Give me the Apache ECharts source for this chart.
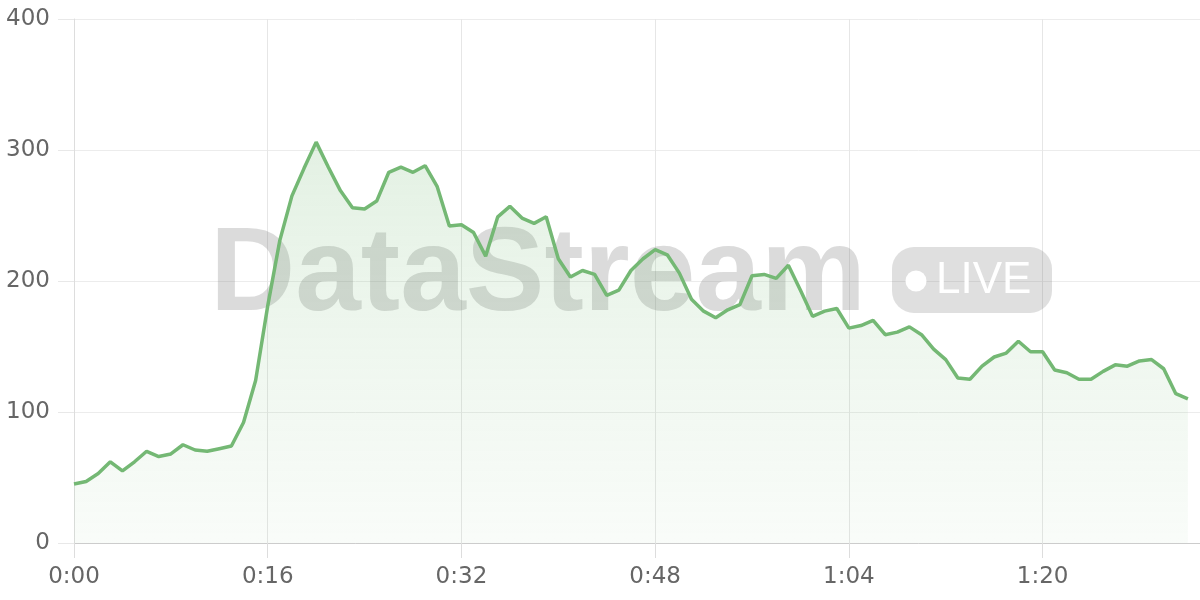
<!DOCTYPE html>
<html>
<head>
<meta charset="utf-8">
<script src="https://cdn.jsdelivr.net/npm/echarts@6/dist/echarts.min.js"></script>
<style>
html,body{margin:0;padding:0;background:#fff;}
#chart{width:1200px;height:600px;}
</style>
</head>
<body>
<div id="chart"></div>
<script>
// x domain: seconds 0..93
const seconds = Array.from({length: 94}, (_, i) => i);
// series values (one per second)
const viewers = [45,47,53,62,55,62,70,66,68,75,71,70,72,74,92,124,181,231,265,286,
  306,287,269,256,255,261,283,287,283,288,272,242,243,237,219,249,257,248,244,249,
  217,203,208,205,189,193,208,217,224,220,206,186,177,172,178,182,204,205,202,212,
  193,173,177,179,164,166,170,159,161,165,159,148,140,126,125,135,142,145,154,146,
  146,132,130,125,125,131,136,135,139,140,133,114,110];
const yTicks = [0, 100, 200, 300, 400];
const watermarkText = 'DataStream';
const badgeText = 'LIVE';

function fmt(s) {
  s = Number(s);
  const m = Math.floor(s / 60), r = s % 60;
  return m + ':' + (r < 10 ? '0' + r : r);
}

const chart = echarts.init(document.getElementById('chart'));
const labelFont = 'DejaVu Sans';
chart.setOption({
  animation: false,
  grid: {left: 74, right: 0, top: 19, bottom: 57, containLabel: false},
  xAxis: {
    type: 'category',
    boundaryGap: false,
    data: seconds,
    axisLine: {lineStyle: {color: '#cccccc', width: 1}},
    axisTick: {show: true, interval: 15, length: 15, lineStyle: {color: '#dddddd'}},
    axisLabel: {interval: 15, formatter: fmt, color: '#666', fontSize: 23, fontFamily: labelFont, margin: 23},
    splitLine: {show: true, interval: 15, lineStyle: {color: '#e6e6e6'}}
  },
  yAxis: {
    type: 'value',
    min: yTicks[0],
    max: yTicks[yTicks.length - 1],
    interval: yTicks[1] - yTicks[0],
    axisLine: {show: true, lineStyle: {color: '#dddddd'}},
    axisTick: {show: true, length: 16, lineStyle: {color: '#e8e8e8'}},
    axisLabel: {color: '#666', fontSize: 23, fontFamily: labelFont, margin: 24},
    splitLine: {show: true, lineStyle: {color: '#ececec'}}
  },
  graphic: [
    {type: 'text', z: 1, silent: true,
      style: {x: 210, y: 277, text: watermarkText, font: 'bold 118px "Liberation Sans"',
        fill: 'rgba(110,110,110,0.25)', verticalAlign: 'middle'}},
    {type: 'rect', z: 1, silent: true,
      shape: {x: 892, y: 247, width: 160, height: 66, r: 22},
      style: {fill: 'rgba(110,110,110,0.22)'}},
    {type: 'circle', z: 1, silent: true,
      shape: {cx: 916, cy: 281, r: 10.5}, style: {fill: '#ffffff'}},
    {type: 'text', z: 1, silent: true,
      style: {x: 936, y: 281, text: badgeText, font: '500 44px "Liberation Sans"',
        fill: '#ffffff', verticalAlign: 'middle'}}
  ],
  series: [{
    type: 'line',
    data: viewers,
    symbol: 'none',
    smooth: false,
    z: 3,
    lineStyle: {color: '#74b874', width: 3.5},
    areaStyle: {
      color: new echarts.graphic.LinearGradient(0, 0, 0, 1, [
        {offset: 0, color: 'rgba(114,184,114,0.28)'},
        {offset: 1, color: 'rgba(114,184,114,0.06)'}
      ])
    }
  }]
});
</script>
</body>
</html>
